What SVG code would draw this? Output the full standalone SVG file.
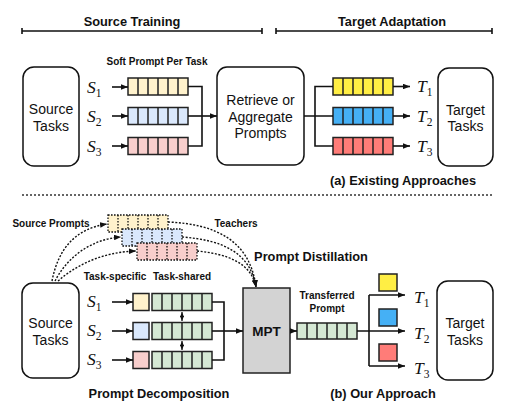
<svg xmlns="http://www.w3.org/2000/svg" width="520" height="411" viewBox="0 0 520 411">
<style>
.hd{font-family:"Liberation Sans",Arial,sans-serif;font-weight:bold;font-size:12.8px;fill:#111;text-anchor:middle}
.sm{font-family:"Liberation Sans",Arial,sans-serif;font-weight:bold;font-size:10px;fill:#111;text-anchor:middle}
.bx{font-family:"Liberation Sans",Arial,sans-serif;font-size:14px;fill:#111;text-anchor:middle}
.var{font-family:"Liberation Serif","Times New Roman",serif;font-style:italic;font-size:17.5px;fill:#111}
.sub{font-style:normal;font-size:11.5px}
.box{fill:#fff;stroke:#111;stroke-width:1.5}
.ln{fill:none;stroke:#111;stroke-width:1.6}
.arr{fill:none;stroke:#111;stroke-width:1.6;marker-end:url(#ah)}
.dot{fill:none;stroke:#111;stroke-width:1.4;stroke-dasharray:2 1.6;marker-end:url(#ah)}
.cell{stroke:#222;stroke-width:1.5}
.py{fill:#fff2cc}.pb{fill:#dae8fc}.pr{fill:#f8cecc}.pg{fill:#d5e8d4}
.by{fill:#ffee44}.bb{fill:#45b0f5}.br{fill:#ff7c78}
</style>
<defs>
<marker id="ah" viewBox="0 0 10 8" refX="10" refY="4" markerWidth="7" markerHeight="5.6" markerUnits="userSpaceOnUse" orient="auto"><path d="M0,0 L10,4 L0,8 z" fill="#111"/></marker>
<marker id="ahs" viewBox="0 0 10 8" refX="10" refY="4" markerWidth="5" markerHeight="4" markerUnits="userSpaceOnUse" orient="auto-start-reverse"><path d="M0,0 L10,4 L0,8 z" fill="#111"/></marker>
<g id="bar17"><rect x="0" y="0" width="60" height="17" fill="none" stroke="#222" stroke-width="1.5"/><path d="M10,0V17M20,0V17M30,0V17M40,0V17M50,0V17" fill="none" stroke="#222" stroke-width="1.5"/></g>
<g id="bar16"><rect x="0" y="0" width="60" height="16" fill="none" stroke="#222" stroke-width="1.5"/><path d="M10,0V16M20,0V16M30,0V16M40,0V16M50,0V16" fill="none" stroke="#222" stroke-width="1.5"/></g>
<g id="dbar"><rect x="0" y="0" width="60" height="17" fill="none" stroke="#111" stroke-width="1.3" stroke-dasharray="1.6 1.4"/><path d="M10,0V17M20,0V17M30,0V17M40,0V17M50,0V17" fill="none" stroke="#111" stroke-width="1.3" stroke-dasharray="1.6 1.4"/></g>
</defs>

<!-- headers -->
<g id="headers">
<text class="hd" x="132" y="26">Source Training</text>
<text class="hd" x="392" y="26">Target Adaptation</text>
<path class="ln" d="M22,31H262M22,28V34M262,28V34M276,31H492M276,28V34M492,28V34"/>
<path d="M22,195H492" fill="none" stroke="#333" stroke-width="1.3" stroke-dasharray="2 2"/>
</g>

<!-- (a) existing approaches -->
<g id="src-tasks-a"><rect class="box" x="23" y="67" width="56" height="99" rx="11"/><text class="bx" x="51" y="114">Source</text><text class="bx" x="51" y="131">Tasks</text></g>
<g id="s-labels-a">
<text class="var" x="87" y="93">S<tspan class="sub" dy="4">1</tspan></text>
<text class="var" x="87" y="122">S<tspan class="sub" dy="4">2</tspan></text>
<text class="var" x="87" y="152">S<tspan class="sub" dy="4">3</tspan></text>
</g>
<g id="soft-prompts">
<text class="sm" x="157" y="65">Soft Prompt Per Task</text>
<rect class="py" x="128" y="78" width="60" height="17"/><use href="#bar17" x="128" y="78"/>
<rect class="pb" x="128" y="107.5" width="60" height="17"/><use href="#bar17" x="128" y="107.5"/>
<rect class="pr" x="128" y="137.5" width="60" height="17"/><use href="#bar17" x="128" y="137.5"/>
</g>
<g id="retrieve"><rect class="box" x="217" y="67" width="87" height="98" rx="10"/><text class="bx" x="260.5" y="105">Retrieve or</text><text class="bx" x="260.5" y="121.5">Aggregate</text><text class="bx" x="260.5" y="138">Prompts</text></g>
<g id="target-prompts">
<rect class="by" x="333" y="78" width="60" height="17"/><use href="#bar17" x="333" y="78"/>
<rect class="bb" x="333" y="107.5" width="60" height="17"/><use href="#bar17" x="333" y="107.5"/>
<rect class="br" x="333" y="137.5" width="60" height="17"/><use href="#bar17" x="333" y="137.5"/>
</g>
<g id="t-labels-a">
<text class="var" x="417" y="92">T<tspan class="sub" dy="4">1</tspan></text>
<text class="var" x="417" y="122">T<tspan class="sub" dy="4">2</tspan></text>
<text class="var" x="417" y="152">T<tspan class="sub" dy="4">3</tspan></text>
</g>
<g id="tgt-tasks-a"><rect class="box" x="438" y="68" width="55" height="98" rx="11"/><text class="bx" x="465.5" y="115">Target</text><text class="bx" x="465.5" y="131">Tasks</text></g>
<text class="hd" x="403" y="185">(a) Existing Approaches</text>

<!-- (b) our approach -->
<g id="src-tasks-b"><rect class="box" x="22" y="283" width="57" height="95" rx="11"/><text class="bx" x="50.5" y="328">Source</text><text class="bx" x="50.5" y="345">Tasks</text></g>
<g id="s-labels-b">
<text class="var" x="87" y="307">S<tspan class="sub" dy="4">1</tspan></text>
<text class="var" x="87" y="336">S<tspan class="sub" dy="4">2</tspan></text>
<text class="var" x="87" y="365">S<tspan class="sub" dy="4">3</tspan></text>
</g>
<g id="source-prompts">
<text class="sm" x="51" y="227">Source Prompts</text>
<rect class="py" x="108" y="215" width="60" height="17"/><use href="#dbar" x="108" y="215"/>
<rect class="pb" x="122" y="229" width="60" height="17"/><use href="#dbar" x="122" y="229"/>
<rect class="pr" x="137" y="243" width="60" height="17"/><use href="#dbar" x="137" y="243"/>
<text class="sm" x="236" y="227">Teachers</text>
</g>
<text class="hd" x="311" y="261">Prompt Distillation</text>
<g id="decomposed-prompts">
<text class="sm" x="115" y="280">Task-specific</text>
<text class="sm" x="182" y="280">Task-shared</text>
<rect class="py cell" x="133" y="293.5" width="16" height="17"/>
<rect class="pb cell" x="133" y="322.5" width="16" height="17"/>
<rect class="pr cell" x="133" y="351.5" width="16" height="17"/>
<rect class="pg" x="152" y="293.5" width="60" height="17"/><use href="#bar17" x="152" y="293.5"/>
<rect class="pg" x="152" y="322.5" width="60" height="17"/><use href="#bar17" x="152" y="322.5"/>
<rect class="pg" x="152" y="351.5" width="60" height="17"/><use href="#bar17" x="152" y="351.5"/>
</g>
<g id="mpt"><rect x="243" y="288" width="47" height="85" fill="#d3d3d3" stroke="#222" stroke-width="1.5"/><text class="hd" x="266.5" y="336" style="font-size:13.5px">MPT</text></g>
<g id="transferred">
<text class="sm" x="327" y="299">Transferred</text>
<text class="sm" x="327" y="312">Prompt</text>
<rect class="pg" x="297" y="323" width="60" height="16"/><use href="#bar16" x="297" y="323"/>
</g>
<g id="task-keys">
<rect class="by cell" x="379" y="274" width="18" height="17"/>
<rect class="bb cell" x="379" y="309" width="18" height="17"/>
<rect class="br cell" x="379" y="344" width="18" height="17"/>
</g>
<g id="t-labels-b">
<text class="var" x="414" y="303">T<tspan class="sub" dy="4">1</tspan></text>
<text class="var" x="414" y="339">T<tspan class="sub" dy="4">2</tspan></text>
<text class="var" x="414" y="374">T<tspan class="sub" dy="4">3</tspan></text>
</g>
<g id="tgt-tasks-b"><rect class="box" x="437" y="281" width="56" height="99" rx="11"/><text class="bx" x="465" y="328">Target</text><text class="bx" x="465" y="345">Tasks</text></g>
<text class="hd" x="159" y="398">Prompt Decomposition</text>
<text class="hd" x="383" y="398">(b) Our Approach</text>

<!-- connectors -->
<g id="connectors">
<path class="arr" d="M112,87H128"/>
<path class="arr" d="M112,116H128"/>
<path class="arr" d="M112,146H128"/>
<path class="ln" d="M188,86.5H202V146H188"/>
<path class="arr" d="M188,116H217"/>
<path class="ln" d="M304,116H333M333,86.5H315V146H333"/>
<path class="arr" d="M393,86.5H410"/>
<path class="arr" d="M393,116H410"/>
<path class="arr" d="M393,146H410"/>

<path class="arr" d="M112,302H133"/>
<path class="arr" d="M112,331H133"/>
<path class="arr" d="M112,360H133"/>
<path class="ln" d="M212,302H224V360H212"/>
<path class="arr" d="M212,331H243"/>
<path d="M182,312V321" fill="none" stroke="#111" stroke-width="1.2" marker-start="url(#ahs)" marker-end="url(#ahs)"/>
<path d="M182,341V350" fill="none" stroke="#111" stroke-width="1.2" marker-start="url(#ahs)" marker-end="url(#ahs)"/>
<path class="arr" d="M290,331H297"/>
<path class="arr" d="M357,331H405"/>
<path class="ln" d="M369,295V366"/>
<path class="arr" d="M369,295H405"/>
<path class="arr" d="M369,366H405"/>

<path class="dot" d="M52,281C58,250 74,229 107,224"/>
<path class="dot" d="M55,281C68,256 92,239 121,237"/>
<path class="dot" d="M58,281C80,262 106,252 136,251"/>
<path class="dot" d="M168,222C215,224 250,240 256,287"/>
<path class="dot" d="M182,237C222,240 250,252 256,287"/>
<path class="dot" d="M197,251C228,254 251,263 256,287"/>
</g>
</svg>
